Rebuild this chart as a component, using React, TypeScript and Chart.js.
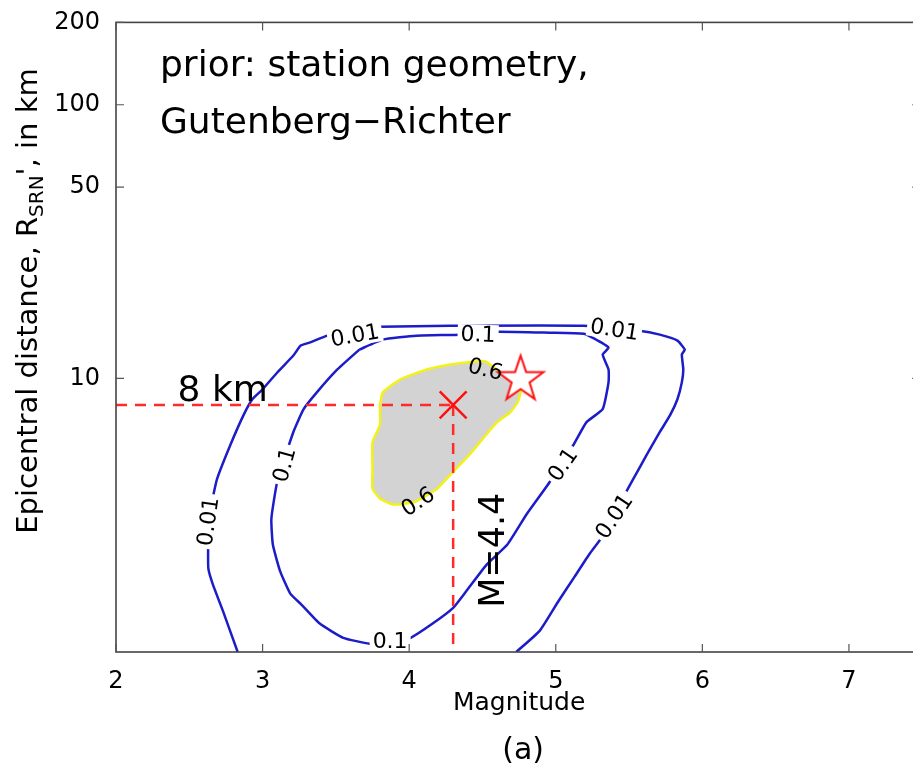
import React, { useEffect, useRef } from 'react';
import { Chart, registerables } from 'chart.js';

Chart.register(...registerables);

const FONT = '"DejaVu Sans", sans-serif';

// axis ticks
const xTicks = [2, 3, 4, 5, 6, 7];
const yTicks = [10, 50, 100, 200];
const xAxisEnd = 7.5; // true right edge of the axes box (cropped in the picture)
const xVisibleMax = 7.437; // visible part of the axis

// contour 0.01 (magnitude, distance km)
const c001M = [2.83, 2.73, 2.66, 2.63, 2.63, 2.66, 2.69, 2.78, 2.87, 2.93, 3.0, 3.1, 3.21, 3.26, 3.32, 3.44, 3.63, 3.8, 4.28, 5.19, 5.57, 5.71, 5.83, 5.88, 5.86, 5.87, 5.86, 5.83, 5.78, 5.71, 5.62, 5.53, 5.47, 5.32, 5.23, 5.13, 5.02, 4.89, 4.73];
const c001R = [1.0, 1.41, 1.77, 2.02, 2.54, 3.64, 4.3, 5.71, 7.34, 8.39, 9.12, 10.51, 12.12, 13.18, 13.51, 14.33, 15.32, 15.45, 15.57, 15.57, 14.94, 14.45, 13.74, 12.74, 12.22, 10.78, 9.67, 8.39, 7.34, 6.37, 5.25, 4.3, 3.76, 2.65, 2.28, 1.89, 1.54, 1.195, 1.0];

// contour 0.1
const c01M = [3.66, 3.82, 4.05, 4.35, 4.6, 4.96, 5.19, 5.25, 5.36, 5.32, 5.36, 5.36, 5.32, 5.21, 5.12, 5.06, 4.96, 4.8, 4.67, 4.53, 4.39, 4.3, 4.16, 4.01, 3.87, 3.73, 3.55, 3.39, 3.26, 3.19, 3.12, 3.07, 3.06, 3.1, 3.21, 3.28, 3.37, 3.51, 3.66];
const c01R = [12.74, 13.86, 14.33, 14.45, 14.81, 14.69, 14.57, 14.09, 12.96, 12.22, 10.78, 9.67, 7.72, 6.92, 5.71, 5.16, 4.19, 3.18, 2.47, 2.09, 1.67, 1.45, 1.27, 1.127, 1.072, 1.072, 1.127, 1.27, 1.5, 1.63, 1.97, 2.47, 3.07, 4.19, 6.37, 7.72, 8.89, 10.78, 12.74];

// contour 0.6 (filled)
const c06M = [3.8, 3.82, 3.94, 4.12, 4.28, 4.39, 4.52, 4.64, 4.74, 4.76, 4.74, 4.69, 4.6, 4.5, 4.41, 4.28, 4.19, 4.04, 3.89, 3.8, 3.75, 3.75, 3.75, 3.8, 3.8];
const c06R = [7.98, 8.89, 9.92, 10.78, 11.24, 11.43, 11.53, 10.34, 9.67, 8.89, 8.18, 7.52, 6.92, 6.0, 5.25, 4.44, 3.95, 3.54, 3.46, 3.64, 3.95, 4.67, 5.85, 6.75, 7.98];

// contour labels
const labelTexts = ['0.01', '0.01', '0.01', '0.01', '0.1', '0.1', '0.1', '0.1', '0.6', '0.6'];
const labelM = [2.63, 3.63, 5.4, 5.4, 4.47, 3.15, 5.05, 3.87, 4.52, 4.06];
const labelR = [3.0, 14.33, 15.07, 3.13, 14.45, 4.83, 4.83, 1.09, 10.78, 3.54];
const labelAngle = [-82, -10, 9, -56, 2, -75, -55, 0, 14, -33];

// markers
const markM = 4.3;
const markR = 8;
const starM = 4.76;
const starR = 9.9;

// annotation texts
const titleLines = ['prior: station geometry,', 'Gutenberg\u2212Richter'];
const titleM = 2.3;
const titleR = [127, 79];
const kmText = '8 km';
const kmM = 2.42;
const kmR = 8.3;
const magText = 'M=4.4';
const magTextM = 4.65;
const magTextR = 1.45;
const xTitle = 'Magnitude';
const caption = '(a)';

const toPts = (m: number[], r: number[]) => m.map((v, i) => ({ x: v, y: r[i] }));

function makeStar(): HTMLCanvasElement {
  const c = document.createElement('canvas');
  c.width = 60;
  c.height = 60;
  const g = c.getContext('2d')!;
  g.beginPath();
  for (let i = 0; i < 10; i++) {
    const rad = i % 2 === 0 ? 24 : 9.4;
    const a = -Math.PI / 2 + (i * Math.PI) / 5;
    g.lineTo(30 + rad * Math.cos(a), 30 + rad * Math.sin(a));
  }
  g.closePath();
  g.fillStyle = '#ffffff';
  g.fill();
  g.strokeStyle = '#ff1010';
  g.lineWidth = 2;
  g.stroke();
  return c;
}

const decor = {
  id: 'decor',
  afterDatasetsDraw(chart: any) {
    const { ctx, chartArea: a, scales } = chart;
    const x = scales.x;
    const y = scales.y;
    ctx.save();
    // contour labels
    ctx.font = `22px ${FONT}`;
    ctx.textAlign = 'center';
    ctx.textBaseline = 'middle';
    for (let i = 0; i < labelTexts.length; i++) {
      const px = x.getPixelForValue(labelM[i]);
      const py = y.getPixelForValue(labelR[i]);
      ctx.save();
      ctx.translate(px, py);
      ctx.rotate((labelAngle[i] * Math.PI) / 180);
      const t = labelTexts[i];
      if (t !== '0.6') {
        const w = ctx.measureText(t).width;
        ctx.fillStyle = '#ffffff';
        ctx.fillRect(-w / 2 - 3, -10, w + 6, 20);
      }
      ctx.fillStyle = '#000';
      ctx.fillText(t, 0, 1);
      ctx.restore();
    }
    // title annotation
    ctx.textAlign = 'left';
    ctx.textBaseline = 'alphabetic';
    ctx.fillStyle = '#000';
    ctx.font = `36px ${FONT}`;
    titleLines.forEach((t, i) => {
      ctx.fillText(t, x.getPixelForValue(titleM), y.getPixelForValue(titleR[i]));
    });
    ctx.fillText(kmText, x.getPixelForValue(kmM), y.getPixelForValue(kmR));
    ctx.save();
    ctx.translate(x.getPixelForValue(magTextM), y.getPixelForValue(magTextR));
    ctx.rotate(-Math.PI / 2);
    ctx.font = `35px ${FONT}`;
    ctx.fillText(magText, 0, 0);
    ctx.restore();

    // axes box (right edge lies just outside the canvas)
    const right = x.getPixelForValue(xAxisEnd);
    ctx.strokeStyle = '#444';
    ctx.lineWidth = 1.6;
    ctx.strokeRect(a.left, a.top, right - a.left, a.bottom - a.top);
    ctx.lineWidth = 1.2;
    ctx.strokeStyle = '#555';
    ctx.beginPath();
    xTicks.forEach((v) => {
      const px = x.getPixelForValue(v);
      ctx.moveTo(px, a.bottom);
      ctx.lineTo(px, a.bottom - 8);
      ctx.moveTo(px, a.top);
      ctx.lineTo(px, a.top + 8);
    });
    yTicks.forEach((v) => {
      const py = y.getPixelForValue(v);
      ctx.moveTo(a.left, py);
      ctx.lineTo(a.left + 8, py);
      ctx.moveTo(right, py);
      ctx.lineTo(right - 10, py);
    });
    ctx.stroke();
    ctx.restore();
  },
  afterDraw(chart: any) {
    const { ctx, scales } = chart;
    const x = scales.x;
    ctx.save();
    ctx.fillStyle = '#000';
    // y axis title with subscript
    ctx.translate(37, 301);
    ctx.rotate(-Math.PI / 2);
    const parts = [
      { t: 'Epicentral distance, R', s: 29, dy: 0 },
      { t: 'SRN', s: 20, dy: 6 },
      { t: "', in km", s: 29, dy: 0 },
    ];
    let total = 0;
    parts.forEach((p) => {
      ctx.font = `${p.s}px ${FONT}`;
      total += ctx.measureText(p.t).width;
    });
    let cx = -total / 2;
    ctx.textAlign = 'left';
    ctx.textBaseline = 'alphabetic';
    parts.forEach((p) => {
      ctx.font = `${p.s}px ${FONT}`;
      ctx.fillText(p.t, cx, p.dy);
      cx += ctx.measureText(p.t).width;
    });
    ctx.restore();
    // x title centred on the full axes box, and caption
    const mid = (x.left + x.getPixelForValue(xAxisEnd)) / 2;
    ctx.save();
    ctx.fillStyle = '#000';
    ctx.textAlign = 'center';
    ctx.textBaseline = 'alphabetic';
    ctx.font = `25px ${FONT}`;
    ctx.fillText(xTitle, mid, 710);
    ctx.font = `30px ${FONT}`;
    ctx.fillText(caption, mid + 4, 759);
    ctx.restore();
  },
};

export default function App() {
  const ref = useRef<HTMLCanvasElement | null>(null);
  useEffect(() => {
    const canvas = ref.current!;
    const blue = '#1c1cc8';
    const chart = new Chart(canvas, {
      type: 'scatter',
      data: {
        datasets: [
          {
            data: [{ x: markM, y: markR }],
            pointStyle: 'crossRot',
            pointRadius: 19,
            borderColor: '#ff1010',
            borderWidth: 2.5,
            showLine: false,
            order: 1,
          } as any,
          {
            data: [{ x: starM, y: starR }],
            pointStyle: makeStar(),
            showLine: false,
            order: 0,
          } as any,
          {
            data: [{ x: 2, y: markR }, { x: markM, y: markR }],
            showLine: true,
            borderColor: '#ff2a2a',
            borderWidth: 2.5,
            borderDash: [11, 8],
            pointRadius: 0,
            order: 2,
          },
          {
            data: [{ x: markM, y: markR }, { x: markM, y: 1 }],
            showLine: true,
            borderColor: '#ff2a2a',
            borderWidth: 2.5,
            borderDash: [11, 8],
            pointRadius: 0,
            order: 2,
          },
          {
            data: toPts(c001M, c001R),
            showLine: true,
            borderColor: blue,
            borderWidth: 2.5,
            pointRadius: 0,
            tension: 0.15,
            order: 5,
          },
          {
            data: toPts(c01M, c01R),
            showLine: true,
            borderColor: blue,
            borderWidth: 2.5,
            pointRadius: 0,
            tension: 0.15,
            order: 5,
          },
          {
            data: toPts(c06M, c06R),
            showLine: true,
            borderColor: '#f2f21a',
            backgroundColor: '#d3d3d3',
            fill: 'shape',
            borderWidth: 2.5,
            pointRadius: 0,
            tension: 0.15,
            order: 10,
          } as any,
        ],
      },
      options: {
        animation: false,
        responsive: false,
        devicePixelRatio: 1,
        layout: { autoPadding: false, padding: { left: 0, top: 18, right: 0, bottom: 0 } },
        plugins: { legend: { display: false }, tooltip: { enabled: false } },
        scales: {
          x: {
            type: 'linear',
            min: 2,
            max: xVisibleMax,
            afterBuildTicks: (s: any) => {
              s.ticks = xTicks.map((v) => ({ value: v }));
            },
            afterFit: (s: any) => {
              s.height = 115;
            },
            grid: { display: false },
            border: { display: false },
            ticks: { color: '#000', font: { family: FONT, size: 24 }, padding: 7, maxRotation: 0, callback: (v: any) => String(v) },
          },
          y: {
            type: 'logarithmic',
            min: 1,
            max: 200,
            afterBuildTicks: (s: any) => {
              s.ticks = yTicks.map((v) => ({ value: v }));
            },
            afterFit: (s: any) => {
              s.width = 116;
            },
            grid: { display: false },
            border: { display: false },
            ticks: { color: '#000', font: { family: FONT, size: 24 }, padding: 8, callback: (v: any) => String(v) },
          },
        },
      } as any,
      plugins: [decor],
    });
    return () => chart.destroy();
  }, []);
  return (
    <div style={{ position: 'absolute', left: 0, top: 0, width: 913, height: 767, overflow: 'hidden', background: '#fff' }}>
      <canvas ref={ref} width={913} height={767} style={{ display: 'block', width: 913, height: 767 }} />
    </div>
  );
}
